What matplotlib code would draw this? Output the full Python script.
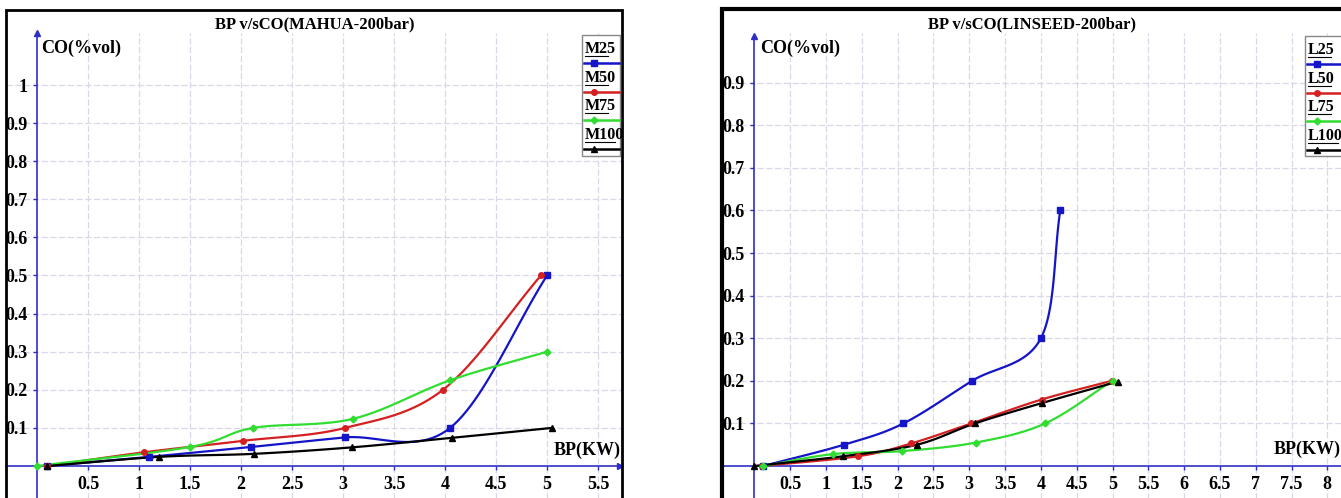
import numpy as np
import matplotlib
matplotlib.use("Agg")
import matplotlib.pyplot as plt
from matplotlib.lines import Line2D
from matplotlib.patches import Rectangle

plt.rcParams['font.family'] = ['Liberation Serif', 'DejaVu Serif']
plt.rcParams['font.weight'] = 'bold'

W, H = 1341, 498

# ---- MAHUA data (BP in kW, CO in %vol)
m25_x = [0.1, 1.1, 2.1, 3.02, 4.05, 5.0]
m25_y = [0.0, 0.024, 0.05, 0.075, 0.1, 0.5]
m50_x = [0.1, 1.05, 2.02, 3.02, 3.98, 4.94]
m50_y = [0.0, 0.036, 0.066, 0.1, 0.2, 0.5]
m75_x = [0.0, 1.5, 2.12, 3.1, 4.05, 5.0]
m75_y = [0.0, 0.05, 0.1, 0.124, 0.225, 0.3]
m100_x = [0.1, 1.2, 2.13, 3.09, 4.07, 5.05]
m100_y = [0.0, 0.024, 0.032, 0.049, 0.074, 0.1]

# ---- LINSEED data
l25_x = [0.12, 1.25, 2.08, 3.04, 4.0, 4.27]
l25_y = [0.0, 0.05, 0.1, 0.2, 0.3, 0.6]
l50_x = [0.1, 1.45, 2.19, 3.03, 4.01, 4.99]
l50_y = [0.0, 0.023, 0.053, 0.1, 0.156, 0.2]
l75_x = [0.12, 1.1, 2.06, 3.09, 4.06, 5.0]
l75_y = [0.0, 0.028, 0.035, 0.055, 0.1, 0.2]
l100_x = [0.0, 1.24, 2.27, 3.08, 4.02, 5.07]
l100_y = [0.0, 0.023, 0.05, 0.1, 0.148, 0.198]

left_xticks = [0.5, 1, 1.5, 2, 2.5, 3, 3.5, 4, 4.5, 5, 5.5]
left_xlabels = ['0.5', '1', '1.5', '2', '2.5', '3', '3.5', '4', '4.5', '5', '5.5']
left_yticks = [0.1, 0.2, 0.3, 0.4, 0.5, 0.6, 0.7, 0.8, 0.9, 1.0]
left_ylabels = ['0.1', '0.2', '0.3', '0.4', '0.5', '0.6', '0.7', '0.8', '0.9', '1']
right_xticks = [0.5, 1, 1.5, 2, 2.5, 3, 3.5, 4, 4.5, 5, 5.5, 6, 6.5, 7, 7.5, 8]
right_xlabels = ['0.5', '1', '1.5', '2', '2.5', '3', '3.5', '4', '4.5', '5',
                 '5.5', '6', '6.5', '7', '7.5', '8']
right_yticks = [0.1, 0.2, 0.3, 0.4, 0.5, 0.6, 0.7, 0.8, 0.9]
right_ylabels = ['0.1', '0.2', '0.3', '0.4', '0.5', '0.6', '0.7', '0.8', '0.9']

BLUE = '#1414c8'
RED = '#d42020'
GREEN = '#30dd30'
BLACK = '#000000'
AXBLUE = '#2f2fc8'
GRID = '#d8d8e8'


def smooth(x, y, n=25):
    # catmull-rom through the points, just for the rounded look of the lines
    p = np.column_stack([x, y]).astype(float)
    p = np.vstack([2 * p[0] - p[1], p, 2 * p[-1] - p[-2]])
    t = np.linspace(0, 1, n)
    h00 = 2 * t**3 - 3 * t**2 + 1
    h10 = t**3 - 2 * t**2 + t
    h01 = -2 * t**3 + 3 * t**2
    h11 = t**3 - t**2
    out = []
    for i in range(1, len(p) - 2):
        m1 = (p[i + 1] - p[i - 1]) / 2
        m2 = (p[i + 2] - p[i]) / 2
        seg = (np.outer(h00, p[i]) + np.outer(h10, m1)
               + np.outer(h01, p[i + 1]) + np.outer(h11, m2))
        out.append(seg)
    out = np.vstack(out)
    return out[:, 0], out[:, 1]


def make_panel(fig, frame, xlim, ylim, ytop, gridtop, xticks, xlabels, yticks,
               ylabels, series, title, title_px, colabel, bplabel, legend,
               frame_lw):
    l, t, r, b = frame
    ax = fig.add_axes([l / W, 1 - b / H, (r - l) / W, (b - t) / H])
    ax.set_xlim(xlim)
    ax.set_ylim(ylim)
    ax.set_xticks(xticks, xlabels)
    ax.set_yticks(yticks, ylabels)
    # grid: vertical lines stop under the title, horizontal ones run across
    ax.vlines(xticks + [xticks[-1] + 0.5], ylim[0], gridtop, color=GRID,
              linestyle=(0, (5, 2)), linewidth=0.9, zorder=0)
    ax.hlines(yticks, xlim[0], xlim[1], color=GRID, linestyle=(0, (5, 2)),
              linewidth=0.9, zorder=0)
    for s in ['top', 'right']:
        ax.spines[s].set_visible(False)
    ax.spines['left'].set_position(('data', 0))
    ax.spines['bottom'].set_position(('data', 0))
    ax.spines['left'].set_color(AXBLUE)
    ax.spines['bottom'].set_color(AXBLUE)
    ax.spines['left'].set_linewidth(1.2)
    ax.spines['bottom'].set_linewidth(1.2)
    ax.spines['left'].set_bounds(ylim[0], ytop)
    ax.tick_params(colors=AXBLUE, length=3, width=1, labelcolor='black',
                   labelsize=13, pad=4)
    for lab in ax.get_xticklabels() + ax.get_yticklabels():
        lab.set_fontweight('bold')
    # arrow heads
    ax.plot([0], [ytop], marker='^', color=AXBLUE, markersize=5, clip_on=False)
    ax.plot([xlim[1] - 0.02], [0], marker='>', color=AXBLUE, markersize=5,
            clip_on=False, zorder=5)
    ax.add_patch(Rectangle((0, 0), 1, 1, transform=ax.transAxes, fill=False,
                           ec='black', lw=frame_lw, clip_on=False, zorder=6))

    for (xs, ys, c, mk, ms) in series:
        sx, sy = smooth(xs, ys)
        ax.plot(sx, sy, color=c, lw=1.6, zorder=3)
        ax.plot(xs, ys, ls='none', marker=mk, color=c, markersize=ms, zorder=4)

    fig.text(title_px[0] / W, 1 - title_px[1] / H, title, ha='center',
             va='center', fontsize=12, fontweight='bold')
    ax.text(colabel[0], colabel[1], 'CO(%vol)', ha='left', va='center',
            fontsize=13, fontweight='bold')
    ax.text(bplabel[0], bplabel[1], 'BP(KW)', ha='right', va='center',
            fontsize=13, fontweight='bold')

    # legend box drawn by hand (labels sit above their line samples)
    bx0, by0, bx1, by1, names = legend
    fig.add_artist(Rectangle((bx0 / W, 1 - by1 / H), (bx1 - bx0) / W,
                             (by1 - by0) / H, transform=fig.transFigure,
                             fill=True, fc='white', ec='#888888', lw=1, zorder=7))
    for k, (name, (xs, ys, c, mk, ms)) in enumerate(zip(names, series)):
        yc = by0 + 14 + k * 28.7
        fig.text((bx0 + 3) / W, 1 - yc / H, name, ha='left', va='center',
                 fontsize=11.5, fontweight='bold', zorder=8)
        fig.add_artist(Line2D([(bx0 + 3) / W, (bx0 + 3 + 7.6 * len(name)) / W],
                              [1 - (yc + 7) / H] * 2, color='black', lw=0.8,
                              transform=fig.transFigure, zorder=8))
        fig.add_artist(Line2D([(bx0 + 2) / W, (bx1 - 1) / W],
                              [1 - (yc + 14) / H] * 2, color=c, lw=1.8,
                              transform=fig.transFigure, zorder=8))
        fig.add_artist(Line2D([(bx0 + 12) / W], [1 - (yc + 14) / H],
                              color=c, marker=mk, markersize=ms,
                              transform=fig.transFigure, zorder=9))
    return ax


fig = plt.figure(figsize=(W / 100, H / 100), dpi=100)

left_series = [
    (m25_x, m25_y, BLUE, 's', 5),
    (m50_x, m50_y, RED, 'o', 4),
    (m75_x, m75_y, GREEN, 'D', 3.5),
    (m100_x, m100_y, BLACK, '^', 4.5),
]
right_series = [
    (l25_x, l25_y, BLUE, 's', 5),
    (l50_x, l50_y, RED, 'o', 4),
    (l75_x, l75_y, GREEN, 'D', 3.5),
    (l100_x, l100_y, BLACK, '^', 4.5),
]

# left: y=0 at px 466, 381 px per unit; x=0 at px 37, 102 px per unit
make_panel(fig, (6, 10, 622, 512), ((6 - 37) / 102, (622 - 37) / 102),
           ((466 - 512) / 381, (466 - 10) / 381), 1.137, (466 - 33) / 381,
           left_xticks, left_xlabels, left_yticks, left_ylabels,
           left_series, 'BP v/sCO(MAHUA-200bar)', (315, 24),
           (0.04, 1.097), (5.72, 0.042),
           (582, 35, 620, 156, ['M25', 'M50', 'M75', 'M100']), 2)

# right: y=0 at px 466, 426 px per unit; x=0 at px 754.5, 71.6 px per unit
make_panel(fig, (722, 9, 1362, 512), ((722 - 754.5) / 71.6, (1362 - 754.5) / 71.6),
           ((466 - 512) / 426, (466 - 9) / 426), 1.01, (466 - 33) / 426,
           right_xticks, right_xlabels, right_yticks, right_ylabels,
           right_series, 'BP v/sCO(LINSEED-200bar)', (1032, 24),
           (0.08, 0.98), (8.18, 0.038),
           (1305, 36, 1350, 156, ['L25', 'L50', 'L75', 'L100']), 3)

fig.savefig('out.png', dpi=100)
